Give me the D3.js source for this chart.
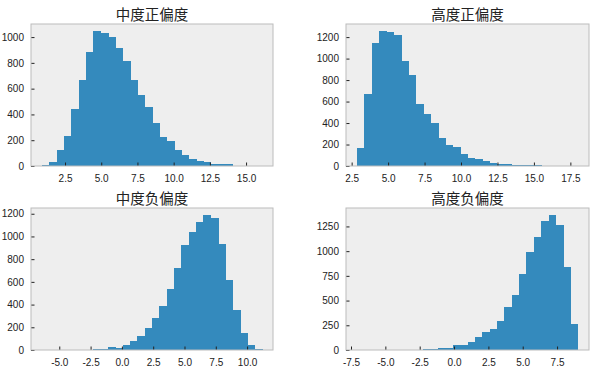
<!DOCTYPE html>
<html lang="zh">
<head>
  <meta charset="UTF-8">
  <title>偏度直方图</title>
  <script src="https://d3js.org/d3.v7.min.js"></script>
  <style>
    body { margin: 0; background: #fff; }
    .tick text { font-family: "Liberation Sans", Arial, sans-serif; font-size: 10px; fill: #222; }
    .title { font-family: "Noto Sans CJK SC", sans-serif; font-size: 14.5px; fill: #222; }
  </style>
</head>
<body>
<div id="chart"></div>
<script>
  // 标题
  const titles = ["中度正偏度", "高度正偏度", "中度负偏度", "高度负偏度"];

  // 每组数据的最小值和最大值 (30 个等宽分箱)
  const posMidRange = [0.91, 16.10];
  const posHighRange = [2.87, 18.02];
  const negMidRange = [-6.38, 11.19];
  const negHighRange = [-7.06, 9.02];

  // 各分箱的计数
  const posMidCounts = [10, 31, 124, 233, 443, 668, 886, 1049, 1028, 1002, 914, 816, 668, 552, 458,
    334, 228, 194, 124, 85, 54, 39, 31, 16, 15, 14, 2, 1, 0, 1];
  const posHighCounts = [168, 672, 1141, 1259, 1250, 1222, 979, 849, 578, 485, 401, 261, 196, 177, 112,
    75, 65, 47, 28, 20, 18, 10, 9, 8, 6, 2, 1, 0, 0, 1];
  const negMidCounts = [1, 0, 0, 1, 1, 2, 3, 9, 9, 26, 18, 44, 79, 124, 194,
    282, 388, 538, 723, 926, 1041, 1129, 1191, 1165, 935, 618, 353, 150, 44, 9];
  const negHighCounts = [1, 0, 0, 1, 1, 2, 2, 3, 4, 10, 10, 20, 20, 51, 51,
    81, 132, 182, 213, 294, 436, 557, 770, 993, 1138, 1307, 1368, 1267, 841, 263];

  // 刻度
  const posMidXTicks = [2.5, 5, 7.5, 10, 12.5, 15];
  const posHighXTicks = [2.5, 5, 7.5, 10, 12.5, 15, 17.5];
  const negMidXTicks = [-5, -2.5, 0, 2.5, 5, 7.5, 10];
  const negHighXTicks = [-7.5, -5, -2.5, 0, 2.5, 5, 7.5];
  const posMidYTicks = [0, 200, 400, 600, 800, 1000];
  const posHighYTicks = [0, 200, 400, 600, 800, 1000, 1200];
  const negMidYTicks = [0, 200, 400, 600, 800, 1000, 1200];
  const negHighYTicks = [0, 250, 500, 750, 1000, 1250];

  const width = 595, height = 369;

  const svg = d3.select("#chart").append("svg")
    .attr("width", width)
    .attr("height", height);

  const panels = [
    { x: 31, y: 24, w: 242, h: 142, range: posMidRange, counts: posMidCounts, xt: posMidXTicks, yt: posMidYTicks },
    { x: 346, y: 24, w: 243, h: 142, range: posHighRange, counts: posHighCounts, xt: posHighXTicks, yt: posHighYTicks },
    { x: 31, y: 208, w: 242, h: 142, range: negMidRange, counts: negMidCounts, xt: negMidXTicks, yt: negMidYTicks },
    { x: 346, y: 208, w: 243, h: 142, range: negHighRange, counts: negHighCounts, xt: negHighXTicks, yt: negHighYTicks }
  ];

  const fmtX = d => d3.format(".1f")(d).replace("−", "-");

  panels.forEach((p, k) => {
    const [lo, hi] = p.range;
    const n = p.counts.length;
    const step = (hi - lo) / n;
    const pad = (hi - lo) * 0.05;
    const bins = p.counts.map((c, i) => ({ x0: lo + i * step, x1: lo + (i + 1) * step, c }));

    const x = d3.scaleLinear().domain([lo - pad, hi + pad]).range([0, p.w]);
    const y = d3.scaleLinear().domain([0, d3.max(p.counts) * 1.05]).range([p.h, 0]);

    const g = svg.append("g").attr("transform", `translate(${p.x},${p.y})`);

    g.append("rect")
      .attr("width", p.w).attr("height", p.h)
      .attr("fill", "#eeeeee");

    g.selectAll(".bar")
      .data(bins)
      .enter()
      .append("rect")
      .attr("class", "bar")
      .attr("x", d => x(d.x0))
      .attr("width", d => x(d.x1) - x(d.x0) + 0.5)
      .attr("y", d => y(d.c))
      .attr("height", d => p.h - y(d.c))
      .attr("fill", "#348ABD")
      .attr("shape-rendering", "crispEdges");

    // 刻度朝内
    const xAxis = g.append("g")
      .attr("transform", `translate(0,${p.h})`)
      .call(d3.axisBottom(x).tickValues(p.xt).tickFormat(fmtX).tickSizeInner(-3.5).tickSizeOuter(0).tickPadding(9));
    const yAxis = g.append("g")
      .call(d3.axisLeft(y).tickValues(p.yt).tickFormat(d3.format("d")).tickSizeInner(-3.5).tickSizeOuter(0).tickPadding(7));
    [xAxis, yAxis].forEach(a => {
      a.select(".domain").remove();
      a.selectAll(".tick line").attr("stroke", "#222");
    });

    g.append("rect")
      .attr("width", p.w).attr("height", p.h)
      .attr("fill", "none")
      .attr("stroke", "#bcbcbc")
      .attr("stroke-width", 1);

    g.append("text")
      .attr("class", "title")
      .attr("x", p.w / 2)
      .attr("y", -4.5)
      .attr("text-anchor", "middle")
      .text(titles[k]);
  });
</script>
</body>
</html>
